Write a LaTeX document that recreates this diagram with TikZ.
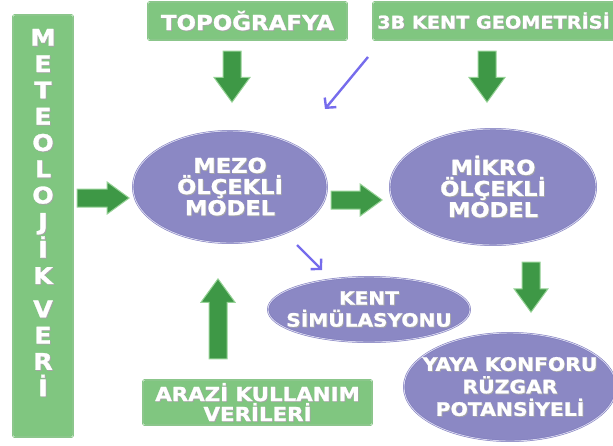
\documentclass[tikz,border=0pt]{standalone}
\usepackage{fontspec}
\setmainfont{DejaVu Sans}
\newfontfamily\labfont[FakeStretch=1.1, BoldFeatures={FakeBold=1.2}]{DejaVu Sans}
\usetikzlibrary{shapes.geometric,shapes.arrows,arrows.meta}

\definecolor{boxfill}{RGB}{128,198,128}
\definecolor{boxedge}{RGB}{108,182,108}
\definecolor{boxring}{RGB}{196,230,196}
\definecolor{ellfill}{RGB}{139,136,196}
\definecolor{elledge}{RGB}{122,119,186}
\definecolor{ellring}{RGB}{214,213,238}
\definecolor{arrfill}{RGB}{62,152,70}
\definecolor{arredge}{RGB}{150,210,150}
\definecolor{linkblue}{RGB}{118,108,236}

% white label text with a soft drop shadow
\newcommand\shd[1]{\leavevmode\rlap{\kern0.9pt\raisebox{-0.9pt}{\color{black!35}#1}}#1}

\tikzset{
  databox/.style={rectangle, rounded corners=2pt, fill=boxfill, draw=boxedge,
    double=boxring, double distance=0.8pt, line width=0.5pt, inner sep=0pt},
  modelell/.style={ellipse, fill=ellfill, draw=elledge, double=ellring,
    double distance=0.9pt, line width=0.5pt, inner sep=0pt},
  lab/.style={text=white, align=center, inner sep=0pt},
  flowarrow/.style={single arrow, fill=arrfill, draw=arredge, line width=1pt,
    inner xsep=0pt, inner ysep=8.5pt, single arrow tip angle=72, anchor=tip},
  link/.style={draw=linkblue, line width=2.4pt,
    -{Straight Barb[length=7pt,width=15pt,line width=2.4pt]}},
}

\begin{document}
\begin{tikzpicture}[x=1pt,y=-1pt]
\useasboundingbox (0,0) rectangle (613,445);

% input data boxes
\node[databox, minimum width=60pt, minimum height=422pt] (met) at (43,226) {};
\node[lab, font=\labfont\bfseries\fontsize{23}{26.3}\selectfont] (mettext) at (43,213) {%
  \shd{M}\\\shd{E}\\\shd{T}\\\shd{E}\\\shd{O}\\\shd{L}\\\shd{O}\\\shd{J}\\\shd{İ}\\\shd{K}\\[7pt]%
  \shd{V}\\\shd{E}\\\shd{R}\\\shd{İ}};

\node[databox, minimum width=199pt, minimum height=38pt] (topo) at (247.5,21) {};
\node[lab, font=\labfont\bfseries\fontsize{20.8}{22}\selectfont] (topotext) at (topo.center) {\shd{TOPOĞRAFYA}};

\node[databox, minimum width=244pt, minimum height=38pt] (geo) at (495,21) {};
\node[lab, font=\labfont\bfseries\fontsize{17.5}{20}\selectfont] (geotext) at (493.5,21) {\shd{3B KENT GEOMETRİSİ}};

\node[databox, minimum width=229pt, minimum height=45pt] (arazi) at (257.5,402.5) {};
\node[lab, font=\labfont\bfseries\fontsize{19.4}{20}\selectfont] (arazitext) at (arazi.center) {\shd{ARAZİ KULLANIM}\\\shd{VERİLERİ}};

% model ellipses
\node[modelell, minimum width=194pt, minimum height=112pt] (mezo) at (230,187) {};
\node[lab, font=\labfont\bfseries\fontsize{20.5}{20}\selectfont] (mezotext) at (mezo.center) {\shd{MEZO}\\\shd{ÖLÇEKLİ}\\\shd{MODEL}};

\node[modelell, minimum width=206pt, minimum height=116pt] (mikro) at (493,187) {};
\node[lab, font=\labfont\bfseries\fontsize{20.5}{20}\selectfont] (mikrotext) at (mikro.center) {\shd{MİKRO}\\\shd{ÖLÇEKLİ}\\\shd{MODEL}};

\node[modelell, minimum width=202pt, minimum height=65pt] (kent) at (369,309.5) {};
\node[lab, font=\labfont\bfseries\fontsize{18.3}{22}\selectfont] (kenttext) at (kent.center) {\shd{KENT}\\\shd{SİMÜLASYONU}};

\node[modelell, minimum width=212pt, minimum height=108pt] (yaya) at (510,387) {};
\node[lab, font=\labfont\bfseries\fontsize{18.5}{22.5}\selectfont] (yayatext) at (yaya.center) {\shd{YAYA KONFORU}\\\shd{RÜZGAR}\\\shd{POTANSİYELİ}};

% block arrows between the stages, placed by their tips
\node[flowarrow, single arrow head extend=7pt, minimum height=52pt] (a1) at (130,198) {};
\node[flowarrow, single arrow head extend=7pt, minimum height=51pt] (a2) at (383,200) {};
\node[flowarrow, rotate=-90, single arrow head extend=9pt, minimum height=51pt] (a3) at (232,103) {};
\node[flowarrow, rotate=-90, single arrow head extend=9pt, minimum height=51pt] (a4) at (487,103) {};
\node[flowarrow, rotate=90, single arrow head extend=8pt, minimum height=80pt] (a5) at (218,278) {};
\node[flowarrow, rotate=-90, single arrow head extend=8pt, minimum height=50pt] (a6) at (531,313) {};

% thin links
\coordinate (g1) at (368,57);
\coordinate (g2) at (325,109);
\coordinate (s1) at (297,245);
\coordinate (s2) at (322,270);
\draw[link] (g1) -- (g2);
\draw[link] (s1) -- (s2);
\end{tikzpicture}
\end{document}
